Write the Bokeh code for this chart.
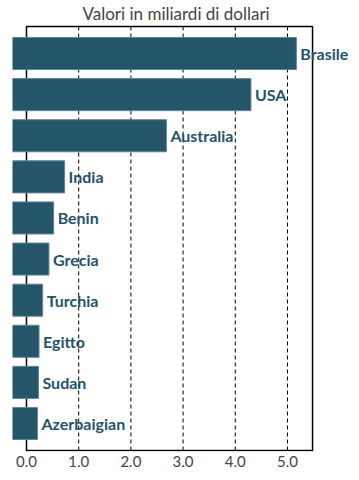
from bokeh.plotting import figure
from bokeh.models import (Range1d, BoxAnnotation, LabelSet, Label,
                          ColumnDataSource, FixedTicker)
from bokeh.core.properties import value
from bokeh.embed import file_html
from bokeh.resources import INLINE

# ---- data ----
countries = ["Brasile", "USA", "Australia", "India", "Benin", "Grecia",
             "Turchia", "Egitto", "Sudan", "Azerbaigian"]
values = [5.17, 4.30, 2.68, 0.73, 0.52, 0.43, 0.31, 0.24, 0.23, 0.21]
x_ticks = [0, 1, 2, 3, 4, 5]
x_tick_labels = ["0.0", "1.0", "2.0", "3.0", "4.0", "5.0"]
title_text = "Valori in miliardi di dollari"

# ---- layout constants ----
X_START = -0.268      # bars begin left of the zero line
X_END = 6.322
BOX_RIGHT = 5.48      # right edge of the framed box
BOX_PAD = 0.157       # box edge beyond outer category half-steps
Y_BOTTOM = -0.681
Y_TOP = 10.29
BAR_COLOR = "#255569"
LABEL_COLOR = "#24536a"
TEXT_GRAY = "#444444"
FONT = "Lato"

n = len(countries)
rows = list(range(n - 1, -1, -1))   # first category on top
src = ColumnDataSource(dict(country=countries, value=values, row=rows,
                            left=[X_START] * n))

box_bottom = -0.5 - BOX_PAD
box_top = n - 0.5 + BOX_PAD

p = figure(width=356, height=479,
           y_range=Range1d(Y_BOTTOM, Y_TOP),
           x_range=Range1d(X_START, X_END),
           output_backend="svg", toolbar_location=None,
           min_border_left=12, min_border_right=0, min_border_top=0,
           min_border_bottom=28)
p.outline_line_color = None
p.background_fill_color = "white"
p.border_fill_color = "white"
p.title.visible = False

# dashed vertical grid lines, limited to the box
grid_x = x_ticks[1:]
p.segment(x0=grid_x, x1=grid_x, y0=[box_bottom] * len(grid_x),
          y1=[box_top] * len(grid_x), line_color="black", line_width=1,
          line_dash="4 3")

p.hbar(y="row", left="left", right="value", height=0.78, source=src,
       fill_color=BAR_COLOR, line_color="#5f8599", line_width=1)

# framed box from zero to right edge
p.add_layout(BoxAnnotation(left=0, right=BOX_RIGHT, bottom=box_bottom, top=box_top,
                           fill_color=None, fill_alpha=0, line_color="black",
                           line_alpha=1.0, line_width=1.5, level="underlay"))

labels = LabelSet(x="value", y="row", text="country", source=src,
                  x_offset=4, text_baseline="middle", text_align="left",
                  text_font=value(FONT), text_font_style="bold",
                  text_font_size="16px", text_color=LABEL_COLOR)
p.add_layout(labels)

# title (frame-relative screen units)
p.add_layout(Label(x=70, y=438, x_units="screen", y_units="screen",
                   text=title_text, text_align="left", text_baseline="alphabetic",
                   text_font=FONT, text_font_size="17px", text_color=TEXT_GRAY))

p.yaxis.visible = False
p.ygrid.visible = False
p.xgrid.visible = False

ax = p.xaxis[0]
ax.ticker = FixedTicker(ticks=x_ticks)
ax.major_label_overrides = {t: l for t, l in zip(x_ticks, x_tick_labels)}
ax.axis_line_color = None
ax.major_tick_line_color = None
ax.major_tick_out = 0
ax.major_tick_in = 0
ax.minor_tick_line_color = None
ax.minor_tick_out = 0
ax.major_label_standoff = 4
ax.major_label_text_font = FONT
ax.major_label_text_font_size = "15px"
ax.major_label_text_color = TEXT_GRAY

open("out.html", "w").write(file_html(p, INLINE))
